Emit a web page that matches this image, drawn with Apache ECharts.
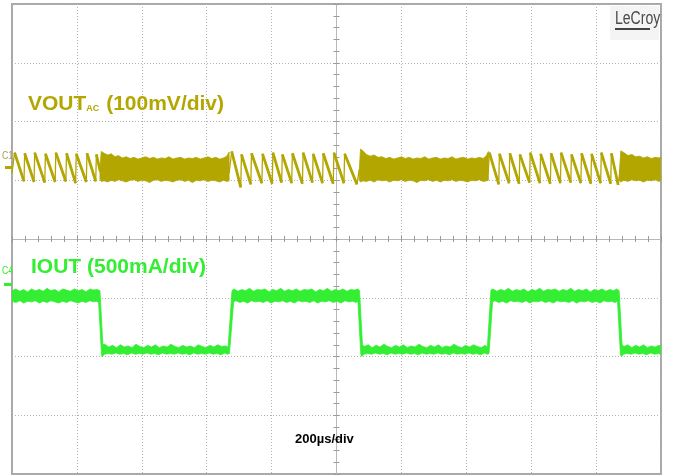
<!DOCTYPE html>
<html><head><meta charset="utf-8">
<script src="https://cdn.jsdelivr.net/npm/echarts@6/dist/echarts.min.js"></script>
<style>html,body{margin:0;padding:0;background:#fff}#c{width:676px;height:475px}</style>
</head><body><div id="c"></div>
<script>
// time in µs (200 µs/div), vertical in screen divisions
const xTicks = [-1000,-800,-600,-400,-200,0,200,400,600,800,1000];
// VOUT sawtooth segments [t, div]
const vSaw1 = [[-1000,1.12],[-992,1.47],[-963,0.98],[-961,1.46],[-932,0.97],[-930,1.47],[-899,0.96],[-897,1.45],[-867,0.97],[-865,1.47],[-834,0.98],[-832,1.46],[-804,0.95],[-802,1.45],[-771,0.97],[-769,1.46],[-742,0.98],[-740,1.44],[-728,1.15]];
const vSaw2 = [[-331,1.12],[-323,1.49],[-295,0.88],[-293,1.44],[-264,0.93],[-262,1.46],[-230,0.95],[-228,1.45],[-198,0.94],[-196,1.47],[-169,0.96],[-167,1.44],[-138,0.95],[-136,1.46],[-105,0.94],[-103,1.47],[-74,0.96],[-72,1.45],[-43,0.95],[-41,1.46],[-10,0.94],[-8,1.47],[23,0.95],[25,1.45],[63,0.93],[70,1.18]];
const vSaw3 = [[467,1.10],[471,1.47],[500,0.93],[502,1.45],[532,0.95],[534,1.46],[563,0.94],[565,1.44],[595,0.96],[597,1.47],[627,0.95],[629,1.45],[659,0.94],[661,1.46],[690,0.95],[692,1.47],[722,0.96],[724,1.44],[753,0.95],[755,1.46],[784,0.94],[786,1.45],[814,0.95],[816,1.47],[845,0.94],[847,1.46],[868,0.92],[874,1.18]];
// VOUT dense ripple envelopes [t, upper, lower]
const vDense1 = [[-729,1.20,1.02],[-725,1.49,0.98],[-716,1.46,0.99],[-705,1.43,0.97],[-694,1.45,1.00],[-683,1.40,0.98],[-672,1.42,1.01],[-660,1.38,0.99],[-648,1.40,0.97],[-636,1.37,1.00],[-624,1.39,1.01],[-612,1.36,0.98],[-600,1.38,1.00],[-588,1.40,0.99],[-576,1.37,0.96],[-564,1.39,1.00],[-552,1.36,1.01],[-540,1.38,0.98],[-528,1.37,1.00],[-516,1.40,0.99],[-504,1.36,0.97],[-492,1.38,1.00],[-480,1.39,1.01],[-468,1.36,0.98],[-456,1.38,1.00],[-444,1.37,0.96],[-432,1.39,1.00],[-420,1.36,0.99],[-408,1.38,1.01],[-396,1.40,0.98],[-384,1.37,1.00],[-372,1.39,0.99],[-360,1.36,0.97],[-348,1.38,1.00],[-338,1.41,0.98],[-331,1.48,0.99]];
const vDense2 = [[70,1.15,1.00],[74,1.53,0.97],[82,1.50,0.99],[92,1.44,0.98],[104,1.41,1.00],[116,1.43,0.97],[128,1.39,1.01],[140,1.40,0.99],[152,1.37,1.00],[164,1.39,0.97],[176,1.36,1.00],[188,1.38,0.99],[200,1.40,1.01],[212,1.37,0.98],[224,1.39,1.00],[236,1.36,0.99],[248,1.38,0.96],[260,1.37,1.00],[272,1.40,0.99],[284,1.36,1.01],[296,1.38,0.98],[308,1.39,1.00],[320,1.36,0.97],[332,1.38,1.00],[344,1.37,0.99],[356,1.40,1.01],[368,1.36,0.98],[380,1.38,1.00],[392,1.39,0.99],[404,1.36,0.97],[416,1.38,1.00],[428,1.37,0.99],[440,1.39,1.01],[452,1.37,0.98],[462,1.42,0.99],[468,1.49,1.00]];
const vDense3 = [[872,1.15,0.99],[876,1.50,0.97],[886,1.47,1.00],[898,1.42,0.98],[910,1.44,1.01],[922,1.40,0.99],[934,1.41,1.00],[946,1.38,0.97],[958,1.40,1.00],[970,1.37,0.99],[982,1.39,1.01],[994,1.38,0.98],[1000,1.40,1.00]];
// IOUT band envelopes [t, div]
const iUpper = [[-1000,-0.88],[-988,-0.85],[-976,-0.89],[-964,-0.86],[-952,-0.90],[-940,-0.85],[-928,-0.88],[-916,-0.86],[-904,-0.89],[-892,-0.84],[-880,-0.88],[-868,-0.86],[-856,-0.90],[-844,-0.85],[-832,-0.87],[-820,-0.89],[-808,-0.85],[-796,-0.88],[-784,-0.86],[-772,-0.90],[-760,-0.85],[-748,-0.87],[-738,-0.86],[-729,-0.88],
[-720,-1.80],[-714,-1.79],[-702,-1.84],[-690,-1.81],[-678,-1.85],[-666,-1.80],[-654,-1.84],[-642,-1.82],[-630,-1.85],[-618,-1.79],[-606,-1.83],[-594,-1.85],[-582,-1.81],[-570,-1.84],[-558,-1.80],[-546,-1.85],[-534,-1.82],[-522,-1.84],[-510,-1.79],[-498,-1.83],[-486,-1.85],[-474,-1.81],[-462,-1.84],[-450,-1.82],[-438,-1.85],[-426,-1.80],[-414,-1.83],[-402,-1.85],[-390,-1.81],[-378,-1.84],[-366,-1.80],[-354,-1.83],[-342,-1.82],[-334,-1.84],
[-322,-0.88],[-316,-0.85],[-304,-0.89],[-292,-0.86],[-280,-0.88],[-268,-0.84],[-256,-0.89],[-244,-0.86],[-232,-0.87],[-220,-0.85],[-208,-0.90],[-196,-0.86],[-184,-0.88],[-172,-0.84],[-160,-0.89],[-148,-0.86],[-136,-0.88],[-124,-0.85],[-112,-0.89],[-100,-0.86],[-88,-0.87],[-76,-0.85],[-64,-0.90],[-52,-0.86],[-40,-0.88],[-28,-0.84],[-16,-0.89],[-4,-0.86],[8,-0.88],[20,-0.85],[32,-0.89],[44,-0.86],[56,-0.87],[66,-0.85],[71,-0.88],
[80,-1.80],[86,-1.83],[98,-1.80],[110,-1.85],[122,-1.81],[134,-1.84],[146,-1.79],[158,-1.83],[170,-1.85],[182,-1.81],[194,-1.84],[206,-1.80],[218,-1.85],[230,-1.82],[242,-1.84],[254,-1.79],[266,-1.83],[278,-1.85],[290,-1.81],[302,-1.84],[314,-1.80],[326,-1.85],[338,-1.82],[350,-1.84],[362,-1.79],[374,-1.83],[386,-1.85],[398,-1.81],[410,-1.84],[422,-1.80],[434,-1.83],[446,-1.85],[458,-1.81],[465,-1.84],
[476,-0.87],[482,-0.85],[494,-0.89],[506,-0.86],[518,-0.88],[530,-0.84],[542,-0.89],[554,-0.86],[566,-0.88],[578,-0.85],[590,-0.90],[602,-0.86],[614,-0.88],[626,-0.84],[638,-0.89],[650,-0.86],[662,-0.87],[674,-0.85],[686,-0.89],[698,-0.86],[710,-0.88],[722,-0.84],[734,-0.89],[746,-0.86],[758,-0.88],[770,-0.85],[782,-0.90],[794,-0.86],[806,-0.88],[818,-0.85],[830,-0.89],[842,-0.86],[854,-0.88],[864,-0.85],[871,-0.88],
[880,-1.80],[886,-1.83],[898,-1.80],[910,-1.85],[922,-1.81],[934,-1.84],[946,-1.80],[958,-1.85],[970,-1.82],[982,-1.84],[994,-1.81],[1000,-1.83]];
const iLower = [[-1000,-1.06],[-988,-1.08],[-976,-1.05],[-964,-1.09],[-952,-1.06],[-940,-1.07],[-928,-1.05],[-916,-1.09],[-904,-1.06],[-892,-1.08],[-880,-1.05],[-868,-1.07],[-856,-1.09],[-844,-1.06],[-832,-1.08],[-820,-1.05],[-808,-1.07],[-796,-1.09],[-784,-1.06],[-772,-1.08],[-760,-1.05],[-748,-1.07],[-740,-1.06],[-733,-1.08],
[-724,-1.97],[-722,-2.01],[-716,-1.96],[-704,-1.95],[-692,-1.96],[-680,-1.94],[-668,-1.96],[-656,-1.95],[-644,-1.97],[-632,-1.94],[-620,-1.96],[-608,-1.95],[-596,-1.96],[-584,-1.94],[-572,-1.96],[-560,-1.95],[-548,-1.97],[-536,-1.94],[-524,-1.96],[-512,-1.95],[-500,-1.96],[-488,-1.94],[-476,-1.96],[-464,-1.95],[-452,-1.97],[-440,-1.94],[-428,-1.96],[-416,-1.95],[-404,-1.96],[-392,-1.94],[-380,-1.96],[-368,-1.95],[-356,-1.97],[-344,-1.94],[-336,-1.96],[-330,-1.95],
[-317,-1.07],[-310,-1.05],[-298,-1.08],[-286,-1.06],[-274,-1.09],[-262,-1.05],[-250,-1.07],[-238,-1.06],[-226,-1.08],[-214,-1.05],[-202,-1.09],[-190,-1.06],[-178,-1.07],[-166,-1.05],[-154,-1.08],[-142,-1.06],[-130,-1.09],[-118,-1.05],[-106,-1.07],[-94,-1.06],[-82,-1.08],[-70,-1.05],[-58,-1.09],[-46,-1.06],[-34,-1.07],[-22,-1.05],[-10,-1.08],[2,-1.06],[14,-1.09],[26,-1.05],[38,-1.07],[50,-1.06],[60,-1.08],[66,-1.06],
[75,-1.97],[78,-2.00],[84,-1.96],[96,-1.95],[108,-1.96],[120,-1.94],[132,-1.96],[144,-1.95],[156,-1.97],[168,-1.94],[180,-1.96],[192,-1.95],[204,-1.96],[216,-1.94],[228,-1.96],[240,-1.95],[252,-1.97],[264,-1.94],[276,-1.96],[288,-1.95],[300,-1.96],[312,-1.94],[324,-1.96],[336,-1.95],[348,-1.97],[360,-1.94],[372,-1.96],[384,-1.95],[396,-1.96],[408,-1.94],[420,-1.96],[432,-1.95],[444,-1.97],[456,-1.94],[466,-1.96],[470,-1.95],
[481,-1.07],[488,-1.05],[500,-1.08],[512,-1.06],[524,-1.09],[536,-1.05],[548,-1.07],[560,-1.06],[572,-1.08],[584,-1.05],[596,-1.09],[608,-1.06],[620,-1.07],[632,-1.05],[644,-1.08],[656,-1.06],[668,-1.09],[680,-1.05],[692,-1.07],[704,-1.06],[716,-1.08],[728,-1.05],[740,-1.09],[752,-1.06],[764,-1.07],[776,-1.05],[788,-1.08],[800,-1.06],[812,-1.09],[824,-1.05],[836,-1.07],[848,-1.06],[858,-1.08],[866,-1.06],
[875,-1.97],[878,-2.00],[884,-1.96],[896,-1.95],[908,-1.96],[920,-1.94],[932,-1.96],[944,-1.95],[956,-1.97],[968,-1.94],[980,-1.96],[992,-1.95],[1000,-1.96]];

const VCOL = '#b3a600', ICOL = '#33ee33';
const chart = echarts.init(document.getElementById('c'), null, {renderer:'canvas'});

function bandSeries(upper, lower, color){
  return {type:'custom', coordinateSystem:'cartesian2d', silent:true, clip:true, data:[[0,0]], z:3,
    renderItem:function(params, api){
      const pts = upper.map(p=>api.coord(p)).concat(lower.slice().reverse().map(p=>api.coord(p)));
      return {type:'polygon', shape:{points:pts}, style:{fill:color, stroke:color, lineWidth:0.8}};
    }};
}
function denseSeries(env){
  return bandSeries(env.map(r=>[r[0],r[1]]), env.map(r=>[r[0],r[2]]), VCOL);
}
// full trace thin (fast rising edges), falling ramps thicker
function sawSeries(d){
  return {type:'line', data:d, showSymbol:false, silent:true, z:3, lineStyle:{color:VCOL, width:1.3}};
}
function rampSeries(d){
  const out = [];
  for (let i = 0; i < d.length - 1; i++) {
    if (d[i][1] > d[i+1][1]) { out.push(d[i], d[i+1], [(d[i+1][0] + (d[i+2] ? d[i+2][0] : d[i+1][0])) / 2, '-']); }
  }
  return {type:'line', data:out, showSymbol:false, silent:true, connectNulls:false, z:4, lineStyle:{color:VCOL, width:2.8}};
}
const gridLine = {color:'#b2b2b2', type:[1,2], width:1};
const axBase = {type:'value', axisLabel:{show:false}, axisLine:{show:true, onZero:true, lineStyle:{color:'#b8b8b8', width:1}},
  axisTick:{show:true, length:3, lineStyle:{color:'#999'}}, minorTick:{show:true, splitNumber:5, length:3, lineStyle:{color:'#999'}}, minorSplitLine:{show:false}};

chart.setOption({
  animation:false,
  backgroundColor:'#fff',
  grid:{left:12, right:15, top:4, bottom:1, show:true, borderColor:'#a8a8a8', borderWidth:2, backgroundColor:'#fff'},
  xAxis:[
    Object.assign({}, axBase, {min:xTicks[0], max:xTicks[xTicks.length-1], interval:200, position:'bottom', splitLine:{show:true, lineStyle:gridLine}}),
    Object.assign({}, axBase, {min:xTicks[0], max:xTicks[xTicks.length-1], interval:200, position:'top', splitLine:{show:false}})
  ],
  yAxis:[
    Object.assign({}, axBase, {min:-4, max:4, interval:1, position:'left', splitLine:{show:true, lineStyle:gridLine}}),
    Object.assign({}, axBase, {min:-4, max:4, interval:1, position:'right', splitLine:{show:false}})
  ],
  series:[
    sawSeries(vSaw1), sawSeries(vSaw2), sawSeries(vSaw3),
    rampSeries(vSaw1), rampSeries(vSaw2), rampSeries(vSaw3),
    denseSeries(vDense1), denseSeries(vDense2), denseSeries(vDense3),
    bandSeries(iUpper, iLower, ICOL)
  ],
  graphic:[
    {type:'text', left:28, top:94, z:10, style:{text:'{a|VOUT}{b|AC}{a| (100mV/div)}', fill:VCOL,
      rich:{a:{fontSize:21, fontWeight:'bold', fontFamily:'Liberation Sans, Arial, sans-serif', fill:VCOL, verticalAlign:'bottom'},
            b:{fontSize:9, fontWeight:'bold', fontFamily:'Liberation Sans, Arial, sans-serif', fill:VCOL, verticalAlign:'bottom', padding:[0,1,2,0]}}}},
    {type:'text', left:31, top:257, z:10, style:{text:'IOUT (500mA/div)', fill:ICOL, font:'bold 21px "Liberation Sans", Arial, sans-serif'}},
    {type:'text', left:295, top:433, z:10, style:{text:'200µs/div', fill:'#000', font:'bold 13px "Liberation Sans", Arial, sans-serif'}},
    {type:'rect', left:610, top:6, z:9, shape:{width:49, height:34}, style:{fill:'#f4f4f4'}},
    {type:'text', x:615, y:10, scaleX:0.78, z:10, style:{text:'LeCroy', fill:'#4a4a4a', font:'18px "Liberation Sans", Arial, sans-serif'}},
    {type:'rect', left:615, top:28, z:10, shape:{width:35, height:2}, style:{fill:'#444'}},
    {type:'text', x:2, y:150, scaleX:0.8, z:10, style:{text:'C1', fill:'#a8a060', font:'11px "Liberation Sans", sans-serif'}},
    {type:'rect', left:5, top:166, z:10, shape:{width:7, height:3}, style:{fill:VCOL}},
    {type:'text', x:2, y:265, scaleX:0.8, z:10, style:{text:'C4', fill:ICOL, font:'11px "Liberation Sans", sans-serif'}},
    {type:'rect', left:4, top:283, z:10, shape:{width:8, height:3}, style:{fill:ICOL}}
  ]
});
</script></body></html>
